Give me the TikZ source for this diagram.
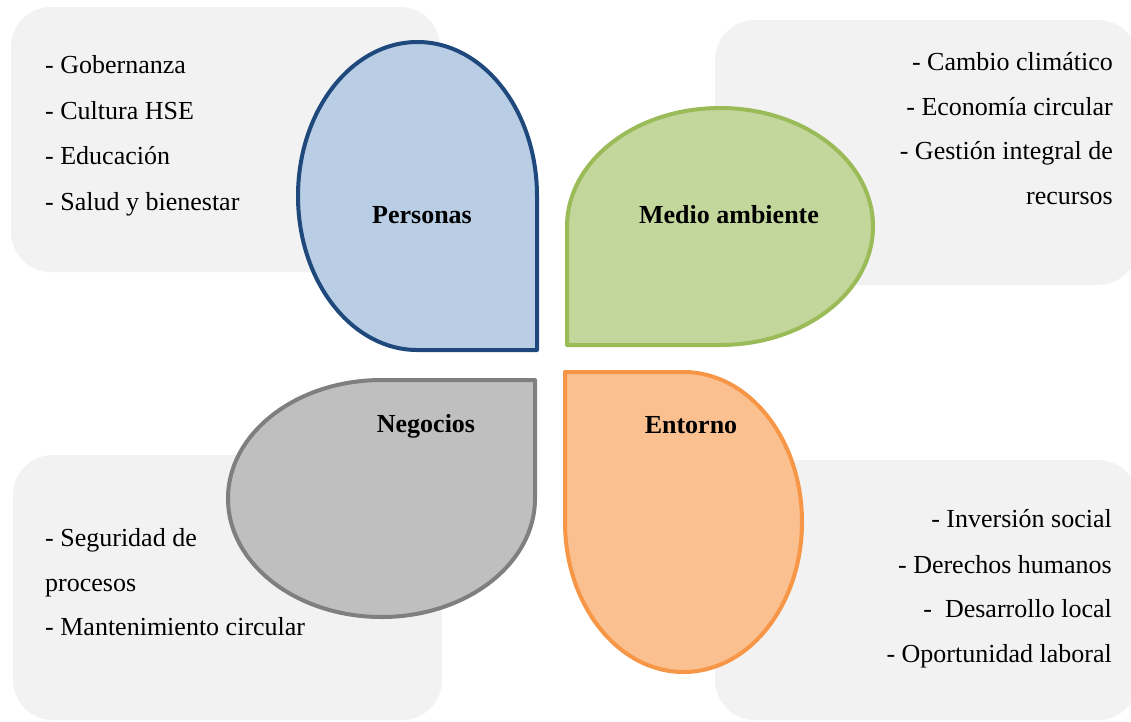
\documentclass[tikz,border=0pt]{standalone}
\usepackage{fontspec}
\setmainfont{Liberation Serif}
\definecolor{pfill}{HTML}{B9CDE5}
\definecolor{pline}{HTML}{1F497D}
\definecolor{gfill}{HTML}{C3D69B}
\definecolor{gline}{HTML}{9BBB59}
\definecolor{nfill}{HTML}{BFBFBF}
\definecolor{nline}{HTML}{7F7F7F}
\definecolor{efill}{HTML}{FAC090}
\definecolor{eline}{HTML}{F79646}
\definecolor{boxfill}{HTML}{F2F2F2}
\begin{document}
\begin{tikzpicture}[x=1pt,y=-1pt,
  bgbox/.style={fill=boxfill, draw=none, rounded corners=40pt},
  petal/.style={line width=4pt, line join=round},
  lab/.style={font=\fontsize{26}{30}\selectfont\bfseries, anchor=base, inner sep=0pt},
  itemL/.style={font=\fontsize{26}{30}\selectfont, anchor=base west, inner sep=0pt},
  itemR/.style={font=\fontsize{26}{30}\selectfont, anchor=base east, inner sep=0pt}]
\useasboundingbox (0,0) rectangle (1131,721);
% background boxes
\fill[bgbox] (11,7) rectangle (440,272);
\fill[bgbox] (715,20) rectangle (1138,285);
\fill[bgbox] (13,455) rectangle (442,720);
\fill[bgbox] (715,460) rectangle (1138,720);
% petals
\draw[petal, fill=pfill, draw=pline] (537,350) -- (417.5,350) arc[start angle=90, end angle=360, x radius=119.5, y radius=154] -- cycle;
\draw[petal, fill=gfill, draw=gline] (567,345) -- (567,226.5) arc[start angle=180, end angle=450, x radius=153, y radius=118.5] -- cycle;
\draw[petal, fill=nfill, draw=nline] (535,380) -- (535,498.5) arc[start angle=0, end angle=270, x radius=153.5, y radius=118.5] -- cycle;
\draw[petal, fill=efill, draw=eline] (565,372) -- (683.5,372) arc[start angle=270, end angle=540, x radius=118.5, y radius=150] -- cycle;
% labels
\node[lab] (personas) at (422,223) {Personas};
\node[lab] (medio) at (729,223) {Medio ambiente};
\node[lab] (negocios) at (426,432) {Negocios};
\node[lab] (entorno) at (691,433) {Entorno};
% top-left list
\node[itemL] (tl1) at (45,73) {- Gobernanza};
\node[itemL] (tl2) at (45,119) {- Cultura HSE};
\node[itemL] (tl3) at (45,164) {- Educación};
\node[itemL] (tl4) at (45,210) {- Salud y bienestar};
% top-right list
\node[itemR] (tr1) at (1113,70) {- Cambio climático};
\node[itemR] (tr2) at (1113,115) {- Economía circular};
\node[itemR] (tr3) at (1113,159) {- Gestión integral de};
\node[itemR] (tr4) at (1113,204) {recursos};
% bottom-left list
\node[itemL] (bl1) at (45,546) {- Seguridad de};
\node[itemL] (bl2) at (45,591) {procesos};
\node[itemL] (bl3) at (45,635) {- Mantenimiento circular};
% bottom-right list
\node[itemR] (br1) at (1112,527) {- Inversión social};
\node[itemR] (br2) at (1112,573) {- Derechos humanos};
\node[itemR] (br3) at (1112,617) {-\ \ Desarrollo local};
\node[itemR] (br4) at (1112,662) {- Oportunidad laboral};
\end{tikzpicture}
\end{document}
